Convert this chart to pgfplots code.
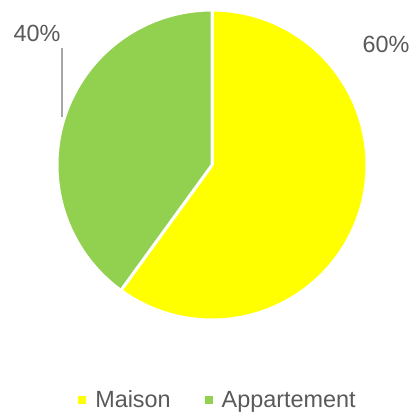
\documentclass[border=0pt]{standalone}
\usepackage{pgfplots}
\usepackage{pgfplotstable}
\pgfplotsset{compat=1.18}
\usepackage{fontspec}
\setmainfont{Liberation Sans}
\definecolor{cMaison}{HTML}{FFFF00}
\definecolor{cAppart}{HTML}{92D050}
\definecolor{txt}{HTML}{595959}
\definecolor{lead}{HTML}{A6A6A6}
\pgfplotstableread{
label value
Maison 60
Appartement 40
}\piedata
\pgfplotstablegetelem{0}{value}\of\piedata \let\vA\pgfplotsretval
\pgfplotstablegetelem{1}{value}\of\piedata \let\vB\pgfplotsretval
\pgfmathsetmacro{\aStart}{90}
\pgfmathsetmacro{\aMid}{90-3.6*\vA}
\pgfmathsetmacro{\aEnd}{\aMid-3.6*\vB}
\begin{document}
\begin{tikzpicture}
\begin{axis}[
  scale only axis, width=414bp, height=413bp,
  xmin=0, xmax=414, ymin=0, ymax=413,
  hide axis, clip=false,
  legend columns=2,
  legend style={at={(axis cs:217,13)}, anchor=center, draw=none, fill=none,
    font=\fontsize{23.4bp}{26bp}\selectfont\color{txt},
    inner sep=0pt, row sep=0pt, column sep=0pt,
    nodes={inner sep=0pt, outer sep=0pt},
    /tikz/every odd column/.append style={column sep=9bp},
    /tikz/every even column/.append style={column sep=34bp}},
  legend image code/.code={\fill[#1, draw=none, line width=0pt] (0bp,-4bp) rectangle (8bp,4bp);},
  legend cell align=left,
]
\path (axis cs:0,0) (axis cs:414,413);
\addplot[fill=cMaison, draw=white, line width=3bp, line join=round, domain=\aStart:\aMid, samples=150, variable=\t]
  ({212+155*cos(t)},{248+155*sin(t)}) -- (axis cs:212,248) -- cycle;
\addlegendentry{Maison}
\addplot[fill=cAppart, draw=white, line width=3bp, line join=round, domain=\aMid:\aEnd, samples=150, variable=\t]
  ({212+155*cos(t)},{248+155*sin(t)}) -- (axis cs:212,248) -- cycle;
\addlegendentry{Appartement}
\addplot[lead, line width=1.3bp, forget plot] coordinates {(62,365) (62,296)};
\node[anchor=base, text=txt, font=\fontsize{23.4bp}{26bp}\selectfont, inner sep=0pt] at (axis cs:37,371) {40\%};
\node[anchor=base, text=txt, font=\fontsize{23.4bp}{26bp}\selectfont, inner sep=0pt] at (axis cs:386,360) {60\%};
\end{axis}
\end{tikzpicture}
\end{document}
